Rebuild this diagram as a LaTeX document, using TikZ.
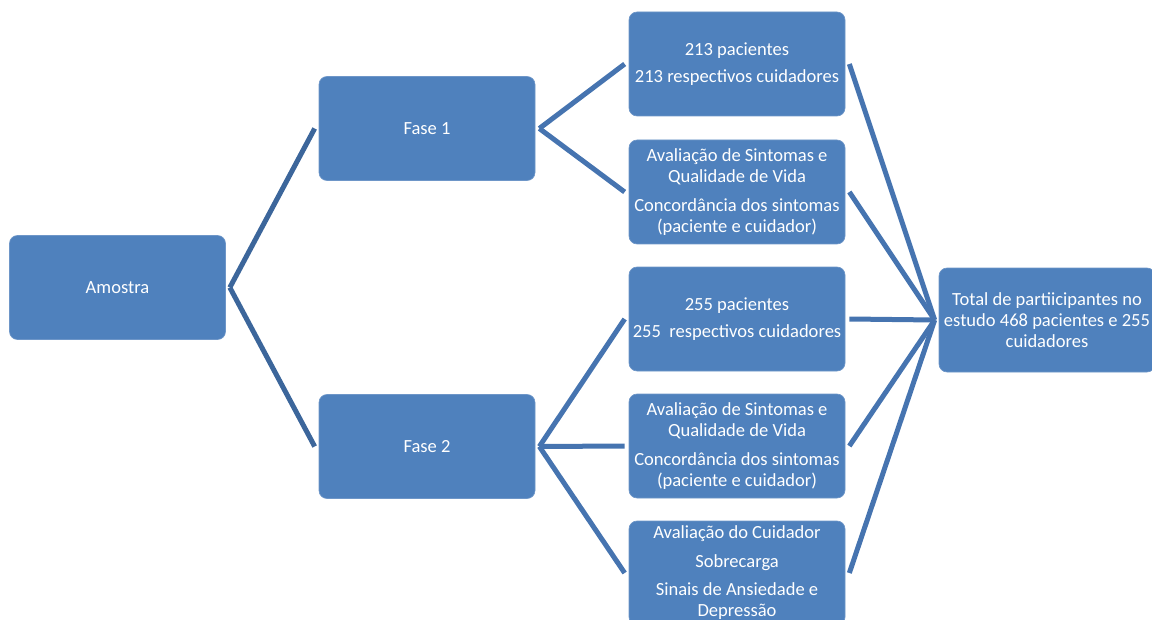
\documentclass[tikz,border=0pt]{standalone}
\usepackage{fontspec}
\setmainfont{Carlito}
\definecolor{boxblue}{RGB}{79,129,189}
\definecolor{boxedge}{RGB}{110,150,200}
\definecolor{lineA}{RGB}{60,102,155}
\definecolor{lineB}{RGB}{70,116,176}
\tikzset{
  stage/.style={draw=boxedge, line width=0.5pt, fill=boxblue, rounded corners=6pt,
    minimum width=162pt, minimum height=78pt, inner sep=2pt, text=white,
    align=center, font=\fontsize{13.9}{15.75}\selectfont},
  linkA/.style={draw=lineA, line width=3.75pt},
  linkB/.style={draw=lineB, line width=3.75pt}
}
\begin{document}
\begin{tikzpicture}[x=0.75pt,y=-0.75pt]
\useasboundingbox (0,0) rectangle (1152,620);
\clip (0,0) rectangle (1152,620);
\node[stage] (am) at (117.5,287.5) {Amostra};
\node[stage] (f1) at (427,128.5) {Fase 1};
\node[stage] (f2) at (427,446.5) {Fase 2};
\node[stage] (a1) at (737,64) {\raisebox{-1pt}{213 pacientes}\\[5.6pt]213 respectivos cuidadores};
\node[stage] (a2) at (737,192) {Avaliação de Sintomas e\\Qualidade de Vida\\[5.6pt]Concordância dos sintomas\\(paciente e cuidador)};
\node[stage] (b1) at (737,319) {\raisebox{-1pt}{255 pacientes}\\[5.6pt]255~~respectivos cuidadores};
\node[stage] (b2) at (737,446) {Avaliação de Sintomas e\\Qualidade de Vida\\[5.6pt]Concordância dos sintomas\\(paciente e cuidador)};
\node[stage] (b3) at (737,573) {Avaliação do Cuidador\\[5.6pt]Sobrecarga\\[5.6pt]Sinais de Ansiedade e\\Depressão};
\node[stage] (tot) at (1047,320) {Total de partiicipantes no\\estudo 468 pacientes e 255\\cuidadores};
% connectors
\draw[linkA] ([xshift=3pt]am.east) -- ([xshift=-3pt]f1.west);
\draw[linkA] ([xshift=3pt]am.east) -- ([xshift=-3pt]f2.west);
\draw[linkB] ([xshift=3pt]f1.east) -- ([xshift=-3pt]a1.west);
\draw[linkB] ([xshift=3pt]f1.east) -- ([xshift=-3pt]a2.west);
\draw[linkB] ([xshift=3pt]f2.east) -- ([xshift=-3pt]b1.west);
\draw[linkB] ([xshift=3pt]f2.east) -- ([xshift=-3pt]b2.west);
\draw[linkB] ([xshift=3pt]f2.east) -- ([xshift=-3pt]b3.west);
\draw[linkB] ([xshift=3pt]a1.east) -- ([xshift=-3pt]tot.west);
\draw[linkB] ([xshift=3pt]a2.east) -- ([xshift=-3pt]tot.west);
\draw[linkB] ([xshift=3pt]b1.east) -- ([xshift=-3pt]tot.west);
\draw[linkB] ([xshift=3pt]b2.east) -- ([xshift=-3pt]tot.west);
\draw[linkB] ([xshift=3pt]b3.east) -- ([xshift=-3pt]tot.west);
\end{tikzpicture}
\end{document}
